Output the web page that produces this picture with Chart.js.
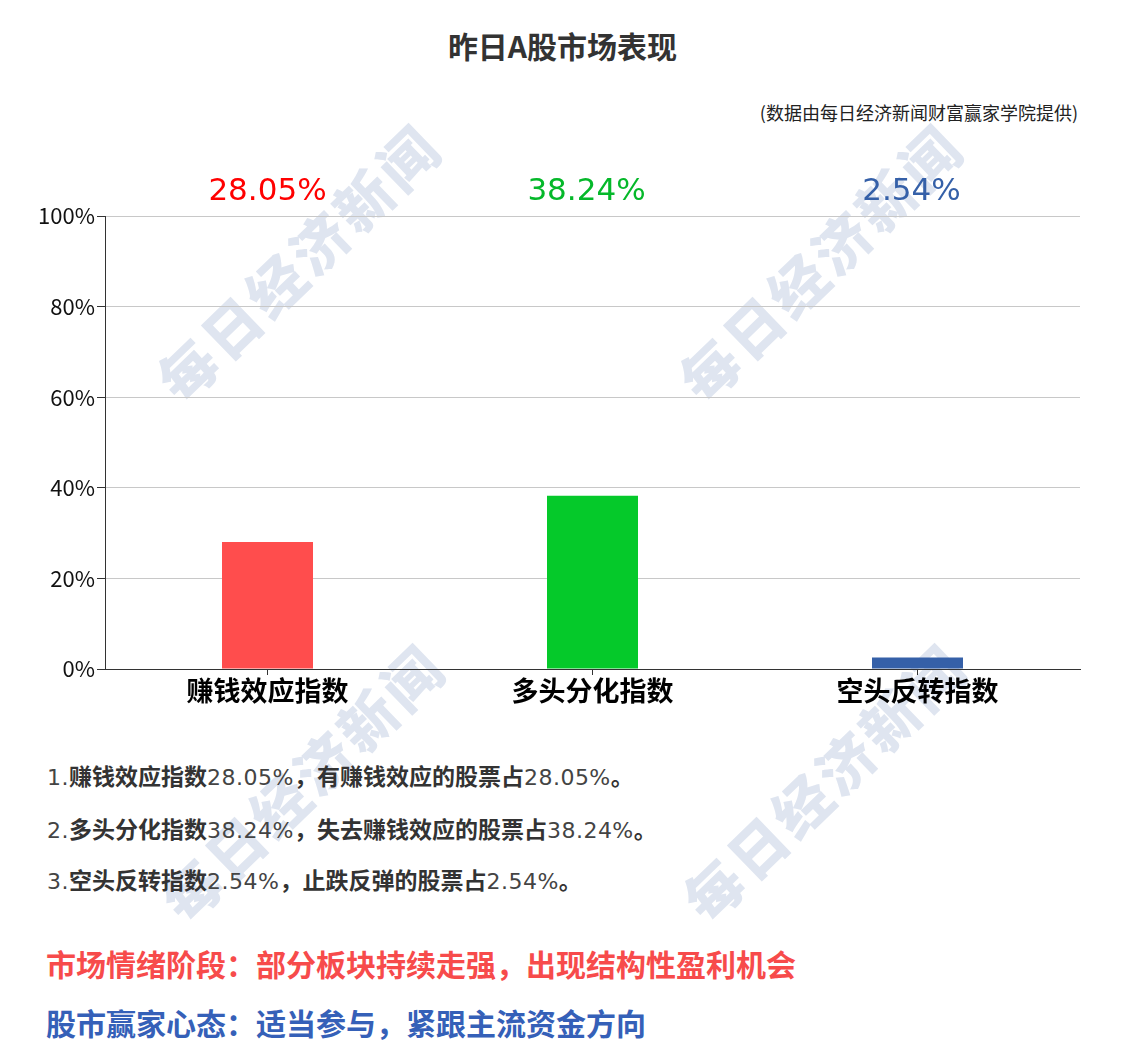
<!DOCTYPE html>
<html><head><meta charset="utf-8">
<script src="https://cdn.jsdelivr.net/npm/chart.js@4"></script>
<style>
html,body{margin:0;padding:0;background:#fff;}
body{width:1125px;height:1048px;position:relative;overflow:hidden;font-family:"Noto Sans CJK SC","Noto Sans",sans-serif;}
.abs{position:absolute;white-space:nowrap;}
#title{left:0;width:1125px;top:25px;text-align:center;font-size:30px;font-weight:bold;color:#333;line-height:40px;}
#src{right:47px;top:99px;font-size:18px;color:#222;line-height:26px;}
.wm{position:absolute;font-family:"Noto Sans CJK SC";font-weight:900;font-size:57px;line-height:57px;color:#dfe5f0;transform-origin:0 0;letter-spacing:4px;white-space:nowrap;}
#wrap{position:absolute;left:0;top:150px;width:1125px;height:569px;}
.line{left:47px;font-size:23px;font-weight:bold;color:#333;line-height:30px;}
.line .n{font-weight:normal;font-family:"DejaVu Sans",sans-serif;font-size:22px;letter-spacing:0.5px;color:#444;}
.big{left:46px;font-size:30px;font-weight:bold;line-height:40px;}
</style></head>
<body>
<div class="wm" style="left:146px;top:368px;transform:rotate(-44deg)">每日经济新闻</div>
<div class="wm" style="left:668px;top:368px;transform:rotate(-44deg)">每日经济新闻</div>
<div class="wm" style="left:150px;top:888px;transform:rotate(-44deg)">每日经济新闻</div>
<div class="wm" style="left:672px;top:888px;transform:rotate(-44deg)">每日经济新闻</div>
<div id="title" class="abs">昨日A股市场表现</div>
<div id="src" class="abs">(数据由每日经济新闻财富赢家学院提供)</div>
<div id="wrap"><canvas id="c"></canvas></div>
<div id="l1" class="abs line" style="top:760px"></div>
<div id="l2" class="abs line" style="top:813px"></div>
<div id="l3" class="abs line" style="top:864px"></div>
<div class="abs big" style="top:943px;color:#f74b4b">市场情绪阶段：部分板块持续走强，出现结构性盈利机会</div>
<div class="abs big" style="top:1002px;color:#3560b8">股市赢家心态：适当参与，紧跟主流资金方向</div>
<script>
const categories = ["赚钱效应指数", "多头分化指数", "空头反转指数"];
const values = [28.05, 38.24, 2.54];
const barColors = ["#ff4d4d", "#05c92a", "#3560a8"];
const labelColors = ["#ff0000", "#05b82a", "#3560a8"];
const yTicks = [0, 20, 40, 60, 80, 100];
const descriptions = ["有赚钱效应的股票占", "失去赚钱效应的股票占", "止跌反弹的股票占"];

categories.forEach((c, i) => {
  document.getElementById('l' + (i + 1)).innerHTML =
    '<span class="n">' + (i + 1) + '.</span>' + c + '<span class="n">' + values[i].toFixed(2) + '%</span>，' +
    descriptions[i] + '<span class="n">' + values[i].toFixed(2) + '%</span>。';
});

const topLabels = {
  id: 'topLabels',
  afterDatasetsDraw(chart) {
    const ctx = chart.ctx;
    const meta = chart.getDatasetMeta(0);
    ctx.save();
    ctx.font = '31px "DejaVu Sans"';
    ctx.textAlign = 'center';
    ctx.textBaseline = 'alphabetic';
    meta.data.forEach((bar, i) => {
      ctx.fillStyle = labelColors[i];
      ctx.fillText(values[i].toFixed(2) + '%', bar.x - (i > 0 ? 6 : 0), chart.chartArea.top - 16);
    });
    ctx.restore();
  }
};

new Chart(document.getElementById('c'), {
  type: 'bar',
  data: {
    labels: categories,
    datasets: [{ data: values, backgroundColor: barColors, barPercentage: 0.28, categoryPercentage: 1 }]
  },
  options: {
    responsive: true,
    maintainAspectRatio: false,
    animation: false,
    layout: { padding: { left: 0, right: 45, top: 66, bottom: 0 } },
    plugins: { legend: { display: false }, tooltip: { enabled: false } },
    scales: {
      x: {
        grid: { display: true, drawOnChartArea: false, offset: false, tickLength: 6, color: '#333' },
        border: { color: '#333', width: 1 },
        ticks: { color: '#000', font: { size: 27, weight: 'bold', family: '"Noto Sans CJK SC"' }, padding: 0 },
        afterFit(s) { s.height = 50; }
      },
      y: {
        min: 0, max: 100,
        afterBuildTicks(s) { s.ticks = yTicks.map(v => ({ value: v })); },
        grid: { color: '#c8c8c8', tickColor: '#333', tickLength: 8 },
        border: { color: '#333', width: 1 },
        ticks: { color: '#111', font: { size: 22, family: '"Noto Sans CJK SC"' }, padding: 2, callback: v => v + '%' },
        afterFit(s) { s.width = 105; }
      }
    }
  },
  plugins: [topLabels]
});
</script>
</body></html>
